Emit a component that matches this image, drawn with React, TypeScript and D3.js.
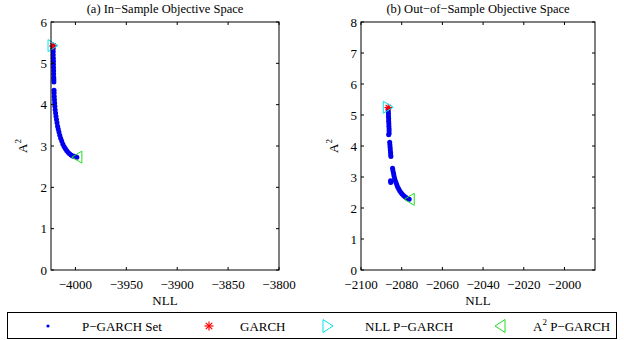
import React from 'react';
import * as d3 from 'd3';

// P-GARCH set, in-sample (NLL, A^2)
const inSampleSet: [number, number][] = [
  [-4022.0, 5.42], [-4021.9, 5.35], [-4021.8, 5.28], [-4021.8, 5.2], [-4021.7, 5.12],
  [-4021.6, 5.05], [-4021.6, 4.98], [-4021.5, 4.9], [-4021.4, 4.82], [-4021.4, 4.74],
  [-4021.3, 4.66], [-4021.2, 4.6], [-4021.2, 4.55],
  [-4021.0, 4.35], [-4020.9, 4.28], [-4020.8, 4.2], [-4020.6, 4.12], [-4020.4, 4.04],
  [-4020.2, 3.96], [-4019.9, 3.88], [-4019.5, 3.8], [-4019.1, 3.72], [-4018.6, 3.64],
  [-4018.1, 3.56], [-4017.5, 3.48], [-4016.9, 3.41], [-4016.2, 3.34], [-4015.4, 3.26],
  [-4014.5, 3.19], [-4013.5, 3.12], [-4012.4, 3.05], [-4011.2, 2.99], [-4010.0, 2.94],
  [-4008.7, 2.89], [-4007.3, 2.85], [-4005.8, 2.81], [-4004.3, 2.78], [-4002.8, 2.76],
  [-4001.3, 2.75], [-3999.8, 2.74], [-3998.6, 2.73],
];
const inSampleGarch: [number, number] = [-4022.0, 5.42];
const inSampleNll: [number, number] = [-4022.0, 5.43];
const inSampleA2: [number, number] = [-3998.6, 2.73];

// P-GARCH set, out-of-sample
const outSampleSet: [number, number][] = [
  [-2086.6, 5.2], [-2086.6, 5.12], [-2086.5, 5.04], [-2086.5, 4.96], [-2086.4, 4.88],
  [-2086.4, 4.8], [-2086.3, 4.72], [-2086.3, 4.64], [-2086.2, 4.56], [-2086.2, 4.48],
  [-2086.2, 4.4], [-2086.4, 4.36],
  [-2085.9, 4.12], [-2085.8, 4.04], [-2085.7, 3.96], [-2085.6, 3.88], [-2085.5, 3.8],
  [-2085.4, 3.72], [-2085.3, 3.66],
  [-2085.5, 2.88], [-2085.4, 2.82],
  [-2084.5, 3.28], [-2084.3, 3.2], [-2084.0, 3.12], [-2083.8, 3.04], [-2083.5, 2.96],
  [-2083.2, 2.89], [-2082.8, 2.82], [-2082.4, 2.75], [-2082.0, 2.68], [-2081.5, 2.62],
  [-2081.0, 2.56], [-2080.4, 2.5], [-2079.8, 2.45], [-2079.1, 2.4], [-2078.4, 2.36],
  [-2077.7, 2.33], [-2077.0, 2.3], [-2076.3, 2.28],
];
const outSampleGarch: [number, number] = [-2086.6, 5.24];
const outSampleNll: [number, number] = [-2086.6, 5.25];
const outSampleA2: [number, number] = [-2076.3, 2.28];

const inXTicks = [-4000, -3950, -3900, -3850, -3800];
const inYTicks = [0, 1, 2, 3, 4, 5, 6];
const outXTicks = [-2100, -2080, -2060, -2040, -2020, -2000];
const outYTicks = [0, 1, 2, 3, 4, 5, 6, 7, 8];

const legendLabels = ['P\u2212GARCH Set', 'GARCH', 'NLL P\u2212GARCH', 'P\u2212GARCH'];

const FONT = '"Liberation Serif", "Times New Roman", serif';
const fmt = (v: number) => String(v).replace('-', '\u2212');

const Star = ({ x, y, r }: { x: number; y: number; r: number }) => {
  const d = r * 0.707;
  return (
    <g stroke="#ff0000" strokeWidth={1.2}>
      <line x1={x - r} y1={y} x2={x + r} y2={y} />
      <line x1={x} y1={y - r} x2={x} y2={y + r} />
      <line x1={x - d} y1={y - d} x2={x + d} y2={y + d} />
      <line x1={x - d} y1={y + d} x2={x + d} y2={y - d} />
    </g>
  );
};

// dir = 1 points right, -1 points left
const Tri = ({ x, y, w, h, dir, color }: any) => {
  const pts = [
    [x + dir * w / 2, y],
    [x - dir * w / 2, y - h / 2],
    [x - dir * w / 2, y + h / 2],
  ];
  return <polygon points={pts.map((p) => p.join(',')).join(' ')} fill="none" stroke={color} strokeWidth={1} />;
};

const Panel = ({ left, right, top, bottom, xDomain, yDomain, xTicks, yTicks, title, set, garch, nll, a2, yLabelX }: any) => {
  const x = d3.scaleLinear().domain(xDomain).range([left, right]);
  const y = d3.scaleLinear().domain(yDomain).range([bottom, top]);
  const cx = (left + right) / 2;
  const tl = 3;
  return (
    <g fontFamily={FONT} fill="#000">
      <text x={cx} y={13} textAnchor="middle" fontSize={12.5}>{title}</text>
      {set.map((d: [number, number], i: number) => (
        <circle key={i} cx={x(d[0])} cy={y(d[1])} r={2.5} fill="#0000ee" />
      ))}
      <Star x={x(garch[0])} y={y(garch[1])} r={3.8} />
      <Tri x={x(nll[0])} y={y(nll[1])} w={10} h={12} dir={1} color="#00e5ee" />
      <Tri x={x(a2[0])} y={y(a2[1])} w={10} h={12} dir={-1} color="#22dd22" />
      <rect x={left} y={top} width={right - left} height={bottom - top} fill="none" stroke="#000" strokeWidth={1} />
      {xTicks.map((t: number) => (
        <g key={t}>
          <line x1={x(t)} x2={x(t)} y1={bottom} y2={bottom - tl} stroke="#000" />
          <line x1={x(t)} x2={x(t)} y1={top} y2={top + tl} stroke="#000" />
          <text x={x(t)} y={289} textAnchor="middle" fontSize={13}>{fmt(t)}</text>
        </g>
      ))}
      {yTicks.map((t: number) => (
        <g key={t}>
          <line x1={left} x2={left + tl} y1={y(t)} y2={y(t)} stroke="#000" />
          <line x1={right} x2={right - tl} y1={y(t)} y2={y(t)} stroke="#000" />
          <text x={left - 4} y={y(t) + 4.5} textAnchor="end" fontSize={13}>{t}</text>
        </g>
      ))}
      <text x={cx} y={305} textAnchor="middle" fontSize={13}>NLL</text>
      <text transform={`translate(${yLabelX},146) rotate(-90)`} textAnchor="middle" fontSize={13}>
        A<tspan dy={-6} fontSize={9}>2</tspan>
      </text>
    </g>
  );
};

export default function App() {
  return (
    <svg width={624} height={340} style={{ position: 'absolute', left: 0, top: 0, background: '#fff' }}>
      <rect width={624} height={340} fill="#fff" />
      <Panel left={51} right={279} top={22} bottom={270} xDomain={[-4024, -3800]} yDomain={[0, 6]}
        xTicks={inXTicks} yTicks={inYTicks} title={'(a) In\u2212Sample Objective Space'}
        set={inSampleSet} garch={inSampleGarch} nll={inSampleNll} a2={inSampleA2} yLabelX={27} />
      <Panel left={361} right={595} top={22} bottom={270} xDomain={[-2100, -1985]} yDomain={[0, 8]}
        xTicks={outXTicks} yTicks={outYTicks} title={'(b) Out\u2212of\u2212Sample Objective Space'}
        set={outSampleSet} garch={outSampleGarch} nll={outSampleNll} a2={outSampleA2} yLabelX={338} />
      <g fontFamily={FONT} fontSize={13}>
        <rect x={7.5} y={312.5} width={609} height={26} fill="#fff" stroke="#000" />
        <circle cx={48} cy={326} r={1.6} fill="#0000ee" />
        <text x={82} y={330.5}>{legendLabels[0]}</text>
        <Star x={209} y={326} r={4.5} />
        <text x={240} y={330.5}>{legendLabels[1]}</text>
        <Tri x={328} y={326} w={10} h={13} dir={1} color="#00e5ee" />
        <text x={365} y={330.5}>{legendLabels[2]}</text>
        <Tri x={500} y={326} w={10} h={13} dir={-1} color="#22dd22" />
        <text x={533} y={330.5}>A<tspan dy={-6} fontSize={9}>2</tspan><tspan dy={6}> {legendLabels[3]}</tspan></text>
      </g>
    </svg>
  );
}
